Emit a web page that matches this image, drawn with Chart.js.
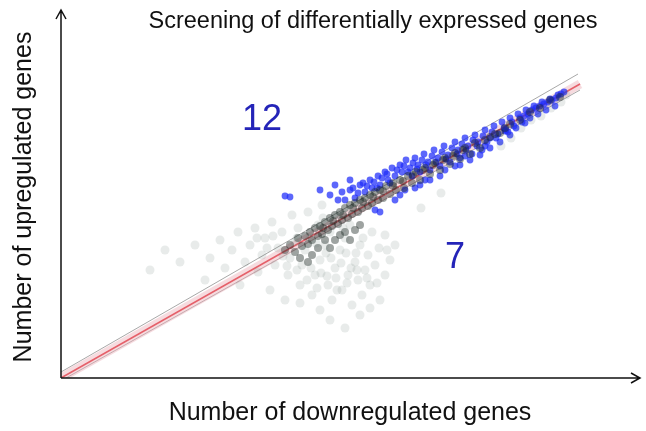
<!DOCTYPE html>
<html>
<head>
<meta charset="utf-8">
<script src="https://cdn.jsdelivr.net/npm/chart.js@4.4.1/dist/chart.umd.min.js"></script>
<style>
  html, body { margin: 0; padding: 0; background: #fff; }
  #wrap { width: 646px; height: 431px; }
</style>
</head>
<body>
<div id="wrap"><canvas id="chart"></canvas></div>
<script>
// gene counts (x = downregulated, y = upregulated)
const allGenes = [
  [89,108],[104,128],[119,116],[134,133],[144,98],[149,120],[159,138],[164,110],[171,128],[177,146],
  [179,93],[184,116],[189,133],[194,150],[197,106],[201,123],[204,140],[209,88],[211,156],[214,113],
  [217,130],[221,146],[224,78],[227,103],[229,120],[231,163],[234,136],[237,150],[239,93],[241,113],
  [244,128],[247,166],[249,140],[251,83],[254,103],[257,153],[259,118],[261,173],[264,133],[267,93],
  [269,146],[271,78],[274,110],[277,163],[279,128],[281,88],[284,140],[287,103],[289,153],[291,73],
  [294,116],[297,98],[299,133],[301,83],[304,108],[307,123],[309,93],[314,113],[319,78],[324,103],
  [329,118],[334,133],[324,143],[311,146],[259,68],[269,58],[284,50],[299,63],[239,75],[309,70],
  [270,120],[280,115],[260,105],[290,110],[250,110],[275,100],[285,125],[265,125],[295,125],[255,135],
  [440,232],[450,240],[460,250],[470,258],[480,262],[490,270],[500,276],[505,283],[360,170],[380,185],
  [206,130],[222,122],[236,108],[246,98],[256,90],[266,102],[276,88],[286,95],[296,108],[306,100],
  [316,95],[326,128],[236,140],[226,112],[212,142],[196,140],[262,160],[282,150],[302,140],[318,130]
];
const coreGenes = [
  [224,128],[229,133],[234,126],[237,140],[241,132],[244,142],[247,134],[249,146],[251,138],[254,150],
  [257,142],[259,152],[261,144],[264,156],[267,148],[269,160],[271,152],[274,163],[277,154],[279,166],
  [281,158],[284,170],[287,160],[289,173],[291,164],[294,175],[297,166],[299,178],[301,170],[304,180],
  [307,172],[309,183],[311,175],[314,186],[317,178],[319,188],[322,180],[325,192],[329,184],[332,195],
  [335,188],[339,198],[343,190],[347,202],[351,195],[355,206],[359,198],[364,210],[369,204],[374,215],
  [379,208],[384,220],[389,214],[394,225],[399,219],[404,230],[409,224],[414,235],[419,230],[429,241],
  [439,245],[449,254],[459,258],[469,266],[479,270],[489,278],[499,281],
  [264,138],[274,138],[284,146],[289,138],[279,143],[269,130],[294,148],[299,153],[257,130],[251,123],
  [239,120],[247,116],[262,150],[272,157],[282,163],[292,170],[302,176],[312,181],[322,187],[332,192],
  [342,197],[352,203],[362,208],[372,213],[382,218],[392,222],[402,228],[424,238],[434,244],[444,250]
];
const diffGenes = [
  [269,183],[277,178],[281,186],[289,188],[294,180],[299,193],[304,186],[309,198],[311,190],[317,202],
  [319,193],[324,206],[327,198],[331,210],[334,202],[339,213],[341,206],[345,218],[349,210],[351,202],
  [354,220],[357,213],[359,206],[363,224],[367,216],[369,208],[373,228],[377,220],[379,212],[383,232],
  [387,223],[389,216],[394,236],[397,228],[399,220],[404,240],[407,232],[411,224],[414,243],[417,236],
  [421,228],[424,248],[429,240],[433,252],[437,244],[441,256],[445,248],[449,260],[453,252],[457,264],
  [461,256],[465,268],[469,260],[473,272],[477,264],[481,276],[485,268],[489,279],[494,272],[497,283],
  [339,183],[359,193],[379,202],[399,213],[409,218],[429,230],[449,243],[334,178],[369,198],[419,223],
  [439,236],[314,168],[319,166],[224,182],[229,181],[274,193],[289,198],[259,188],
  [284,178],[292,190],[297,185],[302,195],[306,192],[313,196],[316,190],[321,200],[326,204],[329,195],
  [336,208],[343,212],[347,206],[352,215],[356,209],[361,218],[365,213],[371,222],[375,216],[381,226],
  [385,219],[391,230],[396,224],[401,234],[405,228],[412,238],[416,232],[422,242],[426,236],[431,246],
  [435,240],[443,250],[447,246],[451,256],[455,250],[459,260],[463,262],[467,264],[471,268],[475,270],
  [479,272],[483,274],[487,276],[491,278],[495,280],[500,284],[503,286],
  [344,188],[364,198],[384,208],[404,222],[424,232],[444,247],[464,255],[354,190],[394,212]
];
const fitLine = [[0,0],[519,294]];
const upperBound = [[0,6],[517,304]];
const lowerBound = [[5,0],[519,288]];
const regionCounts = [12, 7];
const regionAt = [[201,258],[394,120]];

const toPts = arr => arr.map(p => ({ x: p[0], y: p[1] }));

const axesAndText = {
  id: 'axesAndText',
  afterDraw(chart) {
    const { ctx, chartArea: a, scales: { x, y } } = chart;
    ctx.save();
    ctx.strokeStyle = '#111';
    ctx.fillStyle = '#111';
    ctx.lineWidth = 1.5;
    ctx.beginPath();
    ctx.moveTo(a.left, a.bottom);
    ctx.lineTo(a.left, a.top);
    ctx.moveTo(a.left - 5, a.top + 9);
    ctx.lineTo(a.left, a.top);
    ctx.lineTo(a.left + 5, a.top + 9);
    ctx.moveTo(a.left, a.bottom);
    ctx.lineTo(a.right, a.bottom);
    ctx.moveTo(a.right - 9, a.bottom - 5);
    ctx.lineTo(a.right, a.bottom);
    ctx.lineTo(a.right - 9, a.bottom + 5);
    ctx.stroke();

    ctx.textAlign = 'center';
    ctx.textBaseline = 'alphabetic';
    ctx.font = '23.5px "Liberation Sans", Arial, sans-serif';
    ctx.fillText('Screening of differentially expressed genes', 373, 28);
    ctx.font = '25px "Liberation Sans", Arial, sans-serif';
    ctx.fillText('Number of downregulated genes', 350, 420);
    ctx.save();
    ctx.translate(31, 197);
    ctx.rotate(-Math.PI / 2);
    ctx.fillText('Number of upregulated genes', 0, 0);
    ctx.restore();

    ctx.fillStyle = '#2424b8';
    ctx.font = '36px "Liberation Sans", Arial, sans-serif';
    ctx.textBaseline = 'middle';
    regionCounts.forEach((n, i) => {
      ctx.fillText(String(n), x.getPixelForValue(regionAt[i][0]), y.getPixelForValue(regionAt[i][1]));
    });
    ctx.restore();
  }
};

new Chart(document.getElementById('chart'), {
  type: 'scatter',
  data: {
    datasets: [
      { data: toPts(allGenes), backgroundColor: 'rgba(95,110,105,0.14)', borderWidth: 0, pointRadius: 4.5 },
      { data: toPts(coreGenes), backgroundColor: 'rgba(25,35,32,0.42)', borderWidth: 0, pointRadius: 4 },
      { data: toPts(diffGenes), backgroundColor: 'rgba(30,45,250,0.72)', borderWidth: 0, pointRadius: 3.4 },
      { type: 'line', data: toPts(fitLine), borderColor: 'rgba(235,175,185,0.45)', borderWidth: 9, pointRadius: 0 },
      { type: 'line', data: toPts(upperBound), borderColor: '#a8a8a8', borderWidth: 1, pointRadius: 0 },
      { type: 'line', data: toPts(lowerBound), borderColor: '#a8a8a8', borderWidth: 1, pointRadius: 0 },
      { type: 'line', data: toPts(fitLine), borderColor: '#e0202a', borderWidth: 1.6, pointRadius: 0 }
    ]
  },
  options: {
    responsive: true,
    maintainAspectRatio: false,
    animation: false,
    layout: { padding: { left: 61, right: 6, top: 10, bottom: 53 } },
    plugins: { legend: { display: false }, tooltip: { enabled: false } },
    scales: {
      x: { type: 'linear', min: 0, max: 579, display: false },
      y: { type: 'linear', min: 0, max: 368, display: false }
    }
  },
  plugins: [axesAndText]
});
</script>
</body>
</html>
